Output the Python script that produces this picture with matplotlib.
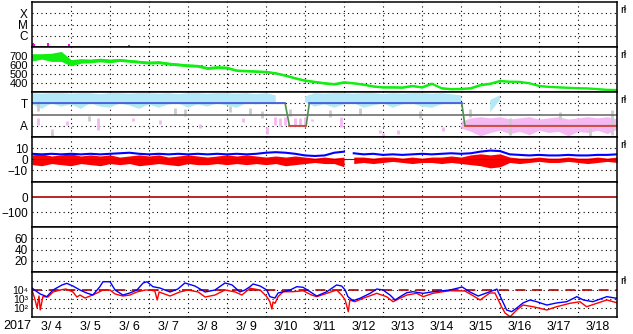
import numpy as np
import matplotlib.pyplot as plt

plt.rcParams['font.family'] = ['Liberation Sans', 'DejaVu Sans']
plt.rcParams['mathtext.default'] = 'regular'

# sample times: day of March 2017, every 6 hours from 3/4 00:00 to 3/19 00:00
days = np.arange(4, 19.01, 0.25)

# panel 1: flare markers
flare_days = [4.03, 4.06, 4.25, 4.42, 4.95, 6.49]
flare_level = [0.35, 0.3, 0.12, 0.33, 0.25, 0.2]

# panel 2: solar wind speed (km/s) and its scatter
speed = [680, 690, 680, 690, 620, 640, 640, 650, 640, 650, 640, 630, 620, 625, 610, 600, 590, 585, 560, 570, 565,
         535, 530, 525, 520, 505, 480, 450, 425, 410, 395, 385, 405,
         395, 380, 360, 350, 350, 348, 365, 350, 390, 340, 330, 332,
         340, 375, 390, 420,
         412, 410, 395, 365, 355, 350, 345, 340, 338, 330, 322, 320]
speed_spread = [40, 30, 45, 55, 35, 25, 20, 20, 20, 15, 15, 15, 15, 15, 15, 15, 15, 15, 15, 15, 15,
                12, 12, 12, 12, 12, 12, 12, 12, 12, 12, 12, 12,
                10, 10, 10, 10, 10, 10, 10, 10, 10, 10, 10, 10,
                10, 10, 10, 10,
                8, 8, 8, 8, 8, 8, 8, 8, 8, 8, 8, 8]

# panel 3: sector (T = 1, A = -1)
nan = np.nan
sky_hi = [1.9, 1.85, 1.9, 1.9, 1.85, 1.9, 1.9, 1.8, 1.9, 1.9, 1.85, 1.9, 1.9, 1.85, 1.9, 1.8, 1.9, 1.9, 1.85, 1.9,
          1.9, 1.85, 1.9, 1.8, 1.9, 1.7, nan, nan,
          1.6, 1.9, 1.85, 1.9, 1.9, 1.85, 1.9, 1.9, 1.8, 1.9, 1.85, 1.9, 1.9, 1.85, 1.9, 1.8, 1.7,
          nan, nan, 1.3, 1.7, nan, nan, 0.85, nan, nan, nan, nan, nan, nan, nan, nan, nan]
sky_lo = [0.9, 0.5, 1.0, 0.7, 0.9, 0.5, 1.0, 0.7, 0.6, 1.0, 0.8, 0.5, 0.9, 0.6, 0.9, 1.0, 0.6, 0.9, 0.7, 1.0,
          0.8, 0.6, 1.0, 0.9, 1.0, 1.1, nan, nan,
          1.1, 0.7, 0.9, 0.6, 0.9, 1.0, 0.6, 0.8, 1.0, 0.6, 0.9, 1.0, 0.7, 0.6, 0.9, 1.0, 1.1,
          nan, nan, 0.2, 1.3, nan, nan, 0.4, nan, nan, nan, nan, nan, nan, nan, nan, nan]
pink_hi = [nan] * 44 + [-0.6, -0.3, -0.2, -0.3, -0.2, -0.4, -0.3, -0.2, -0.4, -0.3, -0.2, -0.4, -0.3, -0.2,
                        -0.3, -0.2, -0.4]
pink_lo = [nan] * 44 + [-1.2, -1.5, -1.9, -1.6, -1.4, -1.7, -1.5, -1.8, -1.4, -1.6, -1.5, -1.9, -1.5, -1.6,
                        -1.4, -1.7, -1.3]
pink_days = [4.15, 4.51, 4.9, 5.69, 6.59, 7.28, 8.31, 9.41, 10.03, 10.23, 10.36, 10.49, 10.74, 10.87, 11.0,
             11.18, 11.92, 12.92, 13.0, 13.38, 14.54]
pink_top = [-0.3, -1.3, -0.6, -0.3, -0.3, -0.5, -0.8, -0.3, -1.1, -0.2, -0.3, -0.2, -0.3, -0.3, -0.2,
            -0.4, -0.2, -1.4, -1.6, -1.4, -1.1]
pink_bot = [-0.9, -1.5, -0.9, -1.4, -0.6, -0.8, -1.2, -0.7, -1.7, -0.9, -1.0, -0.9, -0.9, -0.9, -0.9,
            -0.6, -1.1, -1.65, -2.0, -1.7, -1.5]
gray_days = [4.15, 4.51, 5.46, 7.67, 7.92, 9.08, 9.59, 9.9, 10.62, 11.64, 12.41, 13.95, 15.23, 16.26, 17.54,
             18.31, 18.87]
gray_top = [1.2, -1.5, -0.1, 0.6, 0.5, 0.8, 0.6, 0.3, 0.5, 0.4, 0.6, 0.3, 0.5, -0.3, 0.2, -1.2, 0.4]
gray_bot = [0.3, -1.9, -0.6, 0.0, -0.1, 0.2, 0.0, -0.3, -0.1, -0.2, 0.0, -0.3, -0.2, -1.8, -0.5, -1.9, -1.8]
mode_days = [4, 10.49, 10.60, 11.03, 11.11, 15.02, 15.10, 19]
mode_state = [1, 1, -1, -1, 1, 1, -1, -1]

# panel 4: magnetic field (nT); data gap after 3/12 00:00 (index 32)
gap_after = 32
bt = [5, 4.5, 5, 4.5, 5, 4.5, 5, 4.5, 5, 5.5, 6, 5, 4.5, 5, 4.5, 5, 4.5, 5, 4.5, 5, 4.5,
      5, 4.5, 5, 6, 6.5, 6, 5, 3.5, 3, 3.5, 6, 7,
      5.5,
      4.5, 5, 4, 4.5, 4, 4.5, 5, 4.5, 5, 5.5, 5,
      5.5, 7, 8, 7.5,
      4.5, 4, 3.5, 4, 3.5, 3.5, 4, 3.5, 3.5, 4, 4, 4.5]
bz_hi = [4, 5, 3, 4, 5, 3, 4, 3, 4, 2, 3, 4, 3, 4, 2, 3, 4, 3, 2, 3, 4,
         3, 4, 3, 2, 3, 2, 3, 2, 1, 2, 1, 2,
         2,
         2, 1, 2, 2, 1, 2, 1, 2, 2, 3, 2,
         4, 5, 4, 5,
         2, 1, 1, 2, 1, 1, 2, 1, 1, 2, 1, 2]
bz_lo = [-5, -6, -4, -5, -6, -4, -5, -6, -4, -5, -4, -6, -5, -4, -5, -6, -4, -5, -5, -4, -5,
         -4, -5, -4, -5, -4, -6, -5, -4, -3, -4, -4, -7,
         -4,
         -3, -4, -3, -2, -3, -4, -3, -3, -4, -3, -4,
         -5, -6, -8, -7,
         -3, -4, -3, -2, -3, -3, -2, -3, -4, -3, -2, -3]

# panel 7: electron flux, log10 values
e_days_blue = [4.0, 4.10, 4.21, 4.38, 4.54, 4.77, 4.89, 5.05, 5.23, 5.40, 5.56, 5.74, 5.82, 6.0, 6.13,
               6.33, 6.51, 6.69, 6.85, 6.95, 7.10, 7.28, 7.54, 7.74, 7.92, 8.18, 8.44, 8.69, 8.95, 9.13,
               9.33, 9.46, 9.59, 9.67, 9.85, 10.02, 10.10, 10.23, 10.31, 10.44, 10.62, 10.79, 10.95, 11.13,
               11.30, 11.56, 11.81, 11.94, 12.03, 12.10, 12.23, 12.41, 12.67, 12.84, 13.0, 13.18, 13.31,
               13.44, 13.61, 13.77, 14.03, 14.28, 14.54, 14.72, 15.03, 15.23, 15.44, 15.74, 15.92, 16.05,
               16.17, 16.30, 16.43, 16.59, 16.77, 16.94, 17.20, 17.45, 17.71, 17.97, 18.14, 18.38, 18.74, 18.99]
e_blue = [4.22, 3.89, 3.56, 3.26, 4.0, 4.56, 4.74, 4.44, 4.0, 3.67, 3.44, 4.37, 4.92, 4.92, 4.0,
          3.44, 3.67, 4.0, 4.78, 4.92, 4.37, 4.22, 3.78, 4.11, 4.78, 4.44, 3.78, 4.0, 4.78, 4.56,
          3.78, 4.0, 4.37, 4.67, 4.44, 4.0, 3.26, 3.11, 3.67, 3.81, 4.0, 4.37, 4.30, 3.81,
          3.33, 3.81, 4.56, 4.44, 4.0, 3.26, 2.81, 3.08, 3.63, 4.11, 4.0, 3.44, 2.89,
          3.26, 3.70, 3.81, 3.63, 3.81, 3.92, 4.0, 4.33, 3.78, 3.33, 3.81, 4.1, 2.89,
          1.78, 1.59, 2.0, 2.56, 2.89, 2.70, 2.33, 2.56, 2.70, 3.26, 2.89, 2.70, 3.26, 3.08]
e_days_red = [4.0, 4.08, 4.13, 4.18, 4.21, 4.28, 4.41, 4.54, 4.72, 4.87, 5.05, 5.15, 5.23, 5.36, 5.49,
              5.67, 5.82, 6.0, 6.13, 6.33, 6.51, 6.69, 6.90, 7.03, 7.15, 7.21, 7.26, 7.54, 7.79, 8.0,
              8.26, 8.44, 8.69, 8.95, 9.21, 9.38, 9.59, 9.85, 10.02, 10.10, 10.15, 10.18, 10.23, 10.31,
              10.44, 10.69, 10.95, 11.17, 11.30, 11.56, 11.81, 11.94, 12.03, 12.11, 12.15, 12.28, 12.49,
              12.84, 13.09, 13.26, 13.38, 13.61, 13.86, 14.03, 14.28, 14.54, 14.72, 15.10, 15.28, 15.49,
              15.74, 15.87, 16.04, 16.13, 16.26, 16.43, 16.59, 16.85, 17.20, 17.45, 17.79, 18.05, 18.22,
              18.48, 18.74, 18.99]
e_red = [4.0, 2.89, 2.0, 3.33, 1.78, 3.26, 3.22, 3.78, 4.0, 4.11, 3.78, 3.22, 3.44, 3.11, 3.33,
         3.67, 4.0, 4.0, 3.56, 3.33, 3.44, 3.78, 4.0, 4.0, 3.89, 2.89, 3.78, 3.33, 3.78, 4.0,
         3.78, 3.22, 3.44, 4.0, 3.78, 3.44, 4.19, 4.0, 3.26, 2.70, 1.89, 2.67, 2.52, 3.26,
         3.81, 3.81, 3.92, 3.44, 3.26, 3.63, 4.0, 3.44, 2.89, 1.59, 2.89, 2.70, 3.08,
         3.63, 3.26, 2.70, 2.97, 3.44, 3.63, 3.26, 3.63, 3.81, 3.92, 3.89, 3.44, 2.89,
         3.67, 3.67, 2.14, 1.44, 1.03, 1.78, 2.33, 2.14, 1.78, 2.14, 2.52, 2.70, 2.14,
         2.52, 2.89, 2.59]

# x tick labels
label_days = list(range(4, 19))

W, H = 633, 334
fig = plt.figure(figsize=(W / 100, H / 100), dpi=100)

dot = dict(color='black', lw=0.8, linestyle=(0, (1, 3)), zorder=0.5)
darkred = '#b00000'
green = '#11ee11'

axes = []
for k in range(7):
    top = 2 + 45 * k
    ax = fig.add_axes([32 / W, 1 - (top + 45) / H, 585 / W, 45 / H])
    ax.set_xlim(4, 19)
    for d in range(5, 19):
        ax.axvline(d, **dot)
    for s in ax.spines.values():
        s.set_linewidth(1.1)
    ax.tick_params(length=0, labelsize=8.5, pad=3)
    ax.set_xticks([])
    axes.append(ax)

ax1, ax2, ax3, ax4, ax5, ax6, ax7 = axes

# panel 1
ax1.set_ylim(0, 4)
for v in [1, 2, 3]:
    ax1.axhline(v, **dot)
ax1.set_yticks([1, 2, 3], ['C', 'M', 'X'])
ax1.vlines(flare_days, 0, flare_level, color='#ff00ff', lw=1.5)

# panel 2
ax2.set_ylim(297, 794)
for v in [400, 500, 600, 700]:
    ax2.axhline(v, **dot)
ax2.set_yticks([400, 500, 600, 700])
ax2.tick_params(axis='y', labelsize=8)
sp = np.array(speed)
spr = np.array(speed_spread)
ax2.fill_between(days, sp - spr, sp + spr, color=green, lw=0)
ax2.plot(days, sp, color=green, lw=1.5)

# panel 3
ax3.set_ylim(-2, 2)
for v in [1, -1]:
    ax3.axhline(v, **dot)
ax3.set_yticks([1, -1], ['T', 'A'])
ax3.fill_between(days, sky_lo, sky_hi, color='#b2e8f8', lw=0)
ax3.vlines(gray_days, gray_bot, gray_top, color='#cccccc', lw=2)
ax3.fill_between(days, pink_lo, pink_hi, color='#f6b8f2', lw=0)
ax3.vlines(pink_days, pink_bot, pink_top, color='#f6b8f2', lw=2)
ax3.axhline(0, color='#707070', lw=1.2)
ms = np.array(mode_state, dtype=float)
ax3.plot(mode_days, ms, color='#4f8f4f', lw=1.2)
ax3.plot(mode_days, np.where(ms > 0, ms, np.nan), color='#4a5ef0', lw=1.2)
ax3.plot(mode_days, np.where(ms < 0, ms, np.nan), color='#e04040', lw=1.2)

# panel 4
ax4.set_ylim(-21, 20.5)
for v in [10, -10]:
    ax4.axhline(v, **dot)
ax4.set_yticks([10, 0, -10])
for seg in (slice(0, gap_after + 1), slice(gap_after + 1, None)):
    ax4.fill_between(days[seg], bz_lo[seg], bz_hi[seg], color='#ff0000', lw=0)
ax4.axhline(0, color=darkred, lw=0.8)
for seg in (slice(0, gap_after + 1), slice(gap_after + 1, None)):
    ax4.plot(days[seg], bt[seg], color='#0000ff', lw=1.5)

# panel 5
ax5.set_ylim(-198, 102)
ax5.axhline(-100, **dot)
ax5.set_yticks([0, -100])
ax5.axhline(0, color=darkred, lw=1.2)

# panel 6
ax6.set_ylim(0, 80)
for v in [20, 40, 60]:
    ax6.axhline(v, **dot)
ax6.set_yticks([20, 40, 60])

# panel 7
ax7.set_ylim(1, 6)
for v in [2, 3, 4, 5]:
    ax7.axhline(v, **dot)
ax7.set_yticks([2, 3, 4], ['10²', '10³', '10⁴'])
ax7.tick_params(axis='y', labelsize=7.5)
ax7.axhline(4, color=darkred, lw=1.2, linestyle=(0, (6, 4)))
ax7.plot(e_days_red, e_red, color='#ff0000', lw=1)
ax7.plot(e_days_blue, e_blue, color='#0000ff', lw=1)
ax7.set_xticks([d + 0.5 for d in label_days], [f'3/{d:2d}' for d in label_days])
ax7.tick_params(axis='x', labelsize=9, pad=3)

fig.text(3 / W, 1 - 326 / H, '2017', fontsize=9, va='center')
for y in [10, 55, 100, 145, 281]:
    fig.text(620 / W, 1 - y / H, 'rł', fontsize=8, va='center')

fig.savefig('out.png', dpi=100)
